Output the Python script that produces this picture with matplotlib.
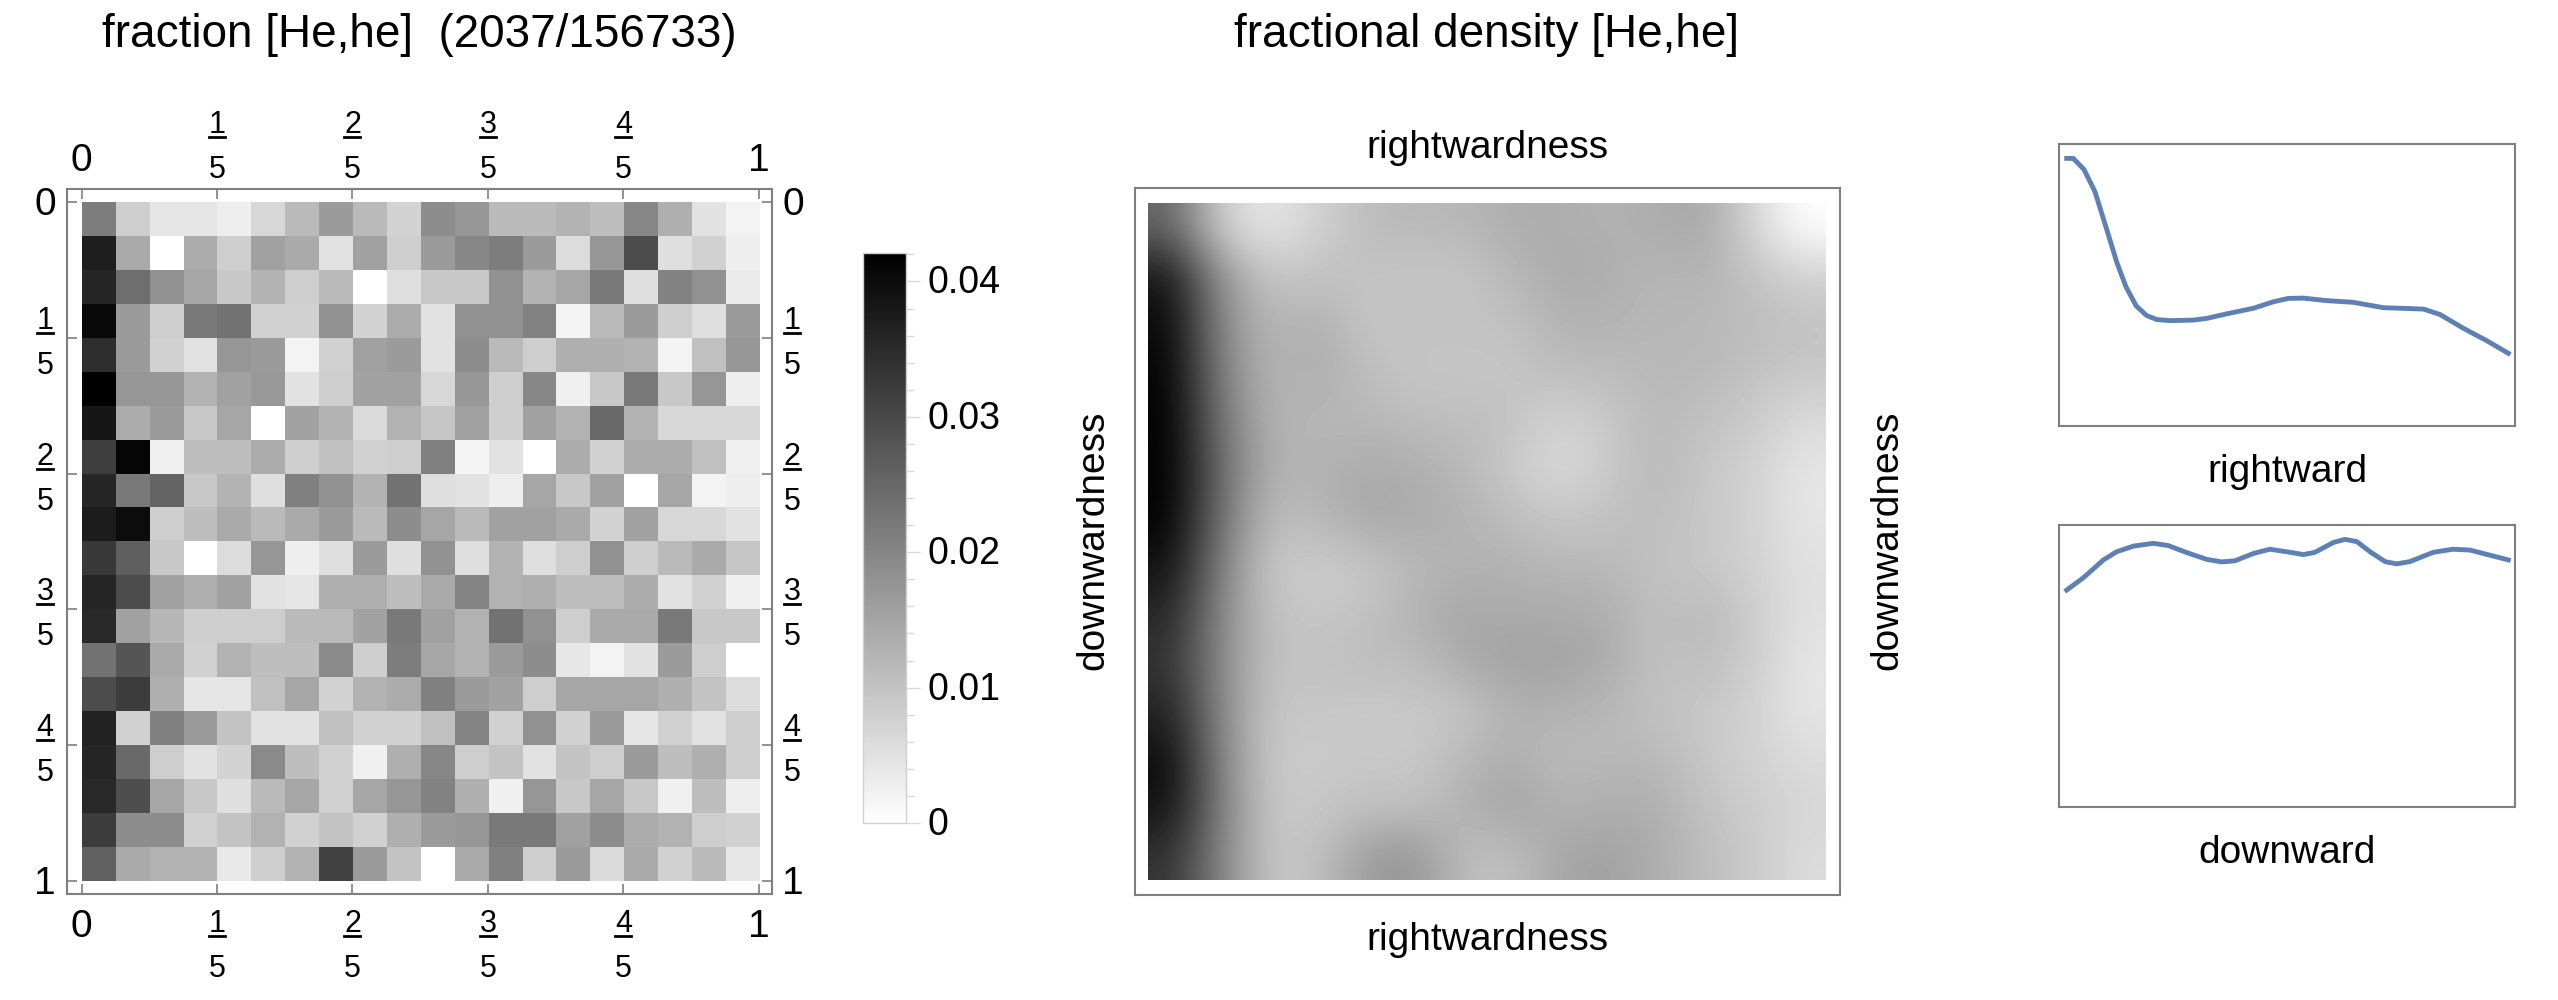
import numpy as np
import matplotlib
matplotlib.use("Agg")
import matplotlib.pyplot as plt
from matplotlib.lines import Line2D
from matplotlib.transforms import IdentityTransform, ScaledTranslation

plt.rcParams['font.family'] = ['Liberation Sans', 'DejaVu Sans']

W, H = 2558, 1000
FS = 28
TITLE_FS = 33
FRAME = '#7f7f7f'
LINE = '#5E81B5'

# fractions, in thousandths
fraction = np.array([
    [21.4, 8.2, 4.4, 4.4, 2.8, 6.6, 11.5, 16.5, 11.5, 7.4, 18.9, 17.3, 11.5, 11.5, 12.4, 10.7, 19.8, 13.2, 4.9, 2.1],
    [37.1, 14.0, 0, 13.7, 8.2, 15.6, 14.0, 4.9, 15.6, 8.2, 16.5, 19.8, 21.4, 16.5, 5.8, 17.3, 29.6, 5.4, 7.7, 2.8],
    [35.7, 23.9, 18.1, 14.8, 9.1, 12.4, 8.2, 11.5, 0, 5.4, 9.1, 9.1, 18.1, 12.4, 14.8, 21.9, 5.4, 20.6, 18.1, 3.3],
    [40.4, 16.5, 8.2, 21.9, 23.1, 7.7, 7.7, 18.1, 7.4, 13.7, 4.9, 18.1, 18.1, 20.6, 2.1, 11.5, 16.5, 8.2, 5.4, 16.5],
    [34.6, 16.5, 7.7, 4.9, 17.3, 16.5, 2.1, 7.7, 15.6, 16.5, 4.9, 18.9, 11.5, 8.2, 13.2, 13.2, 12.4, 2.1, 10.4, 17.3],
    [42.0, 17.3, 17.3, 12.4, 15.6, 17.0, 4.9, 8.2, 15.3, 15.6, 6.6, 17.3, 8.2, 19.8, 2.5, 9.1, 21.9, 9.1, 17.3, 2.8],
    [38.4, 13.7, 16.5, 9.1, 14.8, 0, 15.3, 12.4, 6.1, 12.7, 9.4, 15.6, 8.2, 15.6, 12.4, 24.7, 12.4, 6.6, 6.6, 6.6],
    [31.8, 41.2, 2.5, 10.7, 10.7, 13.7, 8.2, 10.4, 7.7, 8.2, 20.9, 2.1, 4.9, 0, 13.7, 7.7, 13.7, 13.7, 10.4, 2.5],
    [35.7, 22.2, 25.5, 9.1, 12.4, 5.4, 20.9, 18.1, 12.4, 23.1, 5.4, 4.9, 2.8, 14.8, 9.1, 15.6, 0, 14.8, 2.1, 2.8],
    [37.4, 40.0, 8.2, 10.7, 14.0, 11.5, 14.0, 16.5, 11.5, 18.9, 14.8, 11.5, 15.6, 15.6, 14.0, 7.1, 15.6, 6.6, 6.6, 4.9],
    [32.4, 26.4, 9.1, 0, 5.8, 17.3, 2.8, 5.4, 16.5, 5.4, 18.1, 5.4, 12.4, 5.4, 8.2, 18.1, 8.2, 11.5, 14.0, 9.4],
    [35.7, 29.6, 15.6, 13.2, 15.6, 4.9, 4.4, 13.2, 13.2, 10.7, 14.0, 20.3, 12.7, 13.2, 10.7, 10.7, 13.7, 4.9, 7.7, 2.5],
    [35.1, 15.6, 12.0, 8.2, 8.2, 8.2, 11.5, 11.5, 15.3, 22.2, 15.6, 12.7, 23.1, 18.1, 8.2, 14.0, 14.0, 22.2, 9.1, 9.1],
    [23.1, 28.0, 14.0, 7.7, 12.7, 10.7, 10.7, 19.3, 8.2, 21.4, 14.8, 12.7, 16.5, 18.9, 4.1, 2.1, 4.9, 16.5, 8.2, 0],
    [29.6, 32.1, 13.2, 4.4, 4.4, 10.4, 14.8, 7.1, 12.7, 13.7, 20.9, 16.5, 15.3, 8.2, 14.8, 14.8, 14.8, 13.2, 9.9, 5.8],
    [36.2, 7.7, 20.9, 16.5, 9.9, 4.9, 4.9, 10.4, 7.7, 7.7, 10.4, 20.3, 7.7, 18.1, 7.7, 16.5, 4.4, 7.7, 4.9, 8.2],
    [35.7, 24.7, 8.2, 4.9, 7.4, 19.3, 10.7, 7.7, 2.5, 13.2, 19.8, 8.2, 9.9, 4.9, 9.9, 8.2, 16.5, 10.7, 13.2, 8.2],
    [35.4, 29.2, 14.8, 9.1, 5.4, 11.5, 14.8, 7.7, 14.8, 17.3, 20.6, 13.2, 2.5, 17.3, 9.1, 14.8, 9.1, 2.5, 11.0, 2.8],
    [32.1, 18.9, 18.9, 7.7, 9.9, 12.7, 7.7, 9.9, 7.7, 13.2, 16.5, 17.3, 22.2, 22.2, 15.6, 18.9, 13.7, 12.7, 8.2, 7.7],
    [26.0, 14.0, 12.7, 12.7, 3.8, 8.2, 12.7, 31.3, 16.5, 9.9, 0, 14.0, 20.9, 8.2, 16.5, 6.1, 14.0, 7.7, 11.5, 4.1],
]) / 1000

# smooth density, relative darkness
density = np.array([
    [60, 18, 9, 18, 26, 28, 28, 32, 32, 30, 32, 35, 16, 0],
    [92, 42, 22, 24, 24, 22, 22, 28, 33, 32, 28, 30, 24, 18],
    [97, 46, 28, 32, 22, 24, 24, 24, 30, 30, 28, 28, 26, 24],
    [99, 50, 28, 33, 26, 22, 22, 22, 26, 26, 28, 28, 24, 22],
    [100, 54, 30, 28, 28, 26, 26, 24, 17, 21, 28, 24, 21, 14],
    [100, 58, 30, 30, 33, 32, 28, 21, 14, 21, 28, 22, 18, 10],
    [100, 56, 26, 28, 35, 33, 30, 26, 22, 24, 26, 22, 18, 10],
    [94, 50, 21, 20, 21, 28, 30, 30, 28, 28, 24, 22, 18, 12],
    [85, 46, 24, 22, 24, 30, 35, 33, 33, 32, 24, 28, 20, 12],
    [80, 46, 24, 24, 26, 26, 33, 37, 37, 33, 24, 26, 20, 10],
    [87, 46, 22, 22, 21, 21, 22, 30, 30, 28, 24, 22, 18, 10],
    [96, 48, 21, 21, 22, 21, 28, 32, 26, 28, 28, 22, 18, 14],
    [94, 50, 21, 22, 24, 24, 30, 37, 30, 32, 32, 24, 20, 16],
    [80, 48, 22, 24, 39, 42, 26, 24, 35, 37, 32, 26, 21, 14],
])

right_x = [0, .015, .039, .064, .091, .113, .134, .157, .181, .204, .234, .287, .317, .362,
           .423, .468, .502, .536, .589, .649, .717, .755, .808, .845, .898, .951, 1.0]
right_y = [.950, .950, .911, .832, .696, .583, .495, .427, .392, .378, .374, .376, .382, .398,
           .418, .441, .453, .454, .445, .439, .420, .418, .415, .396, .347, .303, .258]
down_x = [0, .038, .083, .113, .151, .196, .230, .272, .317, .351, .381, .423, .460, .498,
          .536, .562, .604, .630, .657, .687, .721, .747, .777, .830, .875, .913, .958, 1.0]
down_y = [.769, .813, .876, .905, .925, .935, .927, .902, .878, .869, .873, .899, .914, .905,
          .895, .903, .938, .949, .941, .905, .870, .862, .870, .903, .914, .911, .893, .876]

fracs = [(1, 5), (2, 5), (3, 5), (4, 5)]
cbar_major = [0, 0.01, 0.02, 0.03, 0.04]
cbar_labels = ['0', '0.01', '0.02', '0.03', '0.04']
cbar_minor = [0.002, 0.004, 0.006, 0.008, 0.012, 0.014, 0.016, 0.018, 0.022, 0.024,
              0.026, 0.028, 0.032, 0.034, 0.036, 0.038, 0.042]

fig = plt.figure(figsize=(W / 100, H / 100), dpi=100)


def box(x0, y0, x1, y1):
    # pixel box with y measured from the top
    return [x0 / W, 1 - y1 / H, (x1 - x0) / W, (y1 - y0) / H]


def txt(x, y, s, rot=0, size=FS):
    fig.text(x, H - y, s, transform=IdentityTransform(), ha='center', va='center',
             fontsize=size, rotation=rot, color='black')


def frac_text(x, y, num, den):
    # stacked fraction, (x, y) is the middle of the bar
    txt(x, y - 12, str(num), size=FS - 6)
    txt(x, y + 33, str(den), size=FS - 6)
    fig.add_artist(Line2D([x - 8, x + 8], [H - y, H - y], transform=IdentityTransform(),
                          color='black', lw=2))


def frame(ax):
    for s in ax.spines.values():
        s.set_color(FRAME)
        s.set_linewidth(1.5)


# left panel
ax1 = fig.add_axes(box(67, 188.5, 772, 894))
pad_x = (81.6 - 67) / (758.7 - 81.6)
pad_y = (202.3 - 188.5) / (880.7 - 202.3)
im = ax1.imshow(fraction, cmap='gray_r', vmin=0, vmax=0.0421, extent=(0, 1, 1, 0),
                interpolation='nearest', aspect='auto')
ax1.set_xlim(-pad_x, 1 + (772 - 758.7) / (758.7 - 81.6))
ax1.set_ylim(1 + (894 - 880.7) / (880.7 - 202.3), -pad_y)
tick_pos = [0, 0.2, 0.4, 0.6, 0.8, 1]
ax1.set_xticks(tick_pos)
ax1.set_yticks(tick_pos)
ax1.tick_params(direction='in', length=7, width=1.2, color=FRAME, top=True, right=True,
                labelbottom=False, labelleft=False)
frame(ax1)
fig.canvas.draw()
for t, (a, b) in zip(tick_pos[1:5], fracs):
    px = ax1.transData.transform((t, 0))[0]
    py = H - ax1.transData.transform((0, t))[1]
    frac_text(px, 137, a, b)
    frac_text(px, 936, a, b)
    frac_text(45, py - 5, a, b)
    frac_text(792, py - 5, a, b)
x_0 = ax1.transData.transform((0, 0))[0]
x_1 = ax1.transData.transform((1, 0))[0]
y_0 = H - ax1.transData.transform((0, 0))[1]
y_1 = H - ax1.transData.transform((0, 1))[1]
for y in (161, 927):
    txt(x_0, y, '0')
    txt(x_1, y, '1')
for x in (45, 793):
    txt(x, y_0 + 3, '0')
    txt(x, y_1 + 3, '1')

# colorbar
cax = fig.add_axes(box(863, 253, 906, 823))
cb = fig.colorbar(im, cax=cax)
cb.outline.set_edgecolor('#d0d0d0')
cb.outline.set_linewidth(1)
cax.set_yticks(cbar_major)
cax.set_yticklabels(cbar_labels, fontsize=FS - 1)
cax.set_yticks(cbar_minor, minor=True)
cax.tick_params(which='major', length=10, width=1, color='#d8d8d8', pad=5.5)
cax.tick_params(which='minor', length=6, width=1, color='#d8d8d8')
up = ScaledTranslation(0, 2 / 100, fig.dpi_scale_trans)
for lab in cax.get_yticklabels():
    lab.set_transform(lab.get_transform() + up)

# middle panel
ax2 = fig.add_axes(box(1134.6, 188, 1840, 894.5))
ax2.imshow(density, cmap='gray_r', vmin=0, vmax=100, extent=(0, 1, 1, 0),
           interpolation='bicubic', aspect='auto')
ax2.set_xlim(-(1148.4 - 1134.6) / 677.6, 1 + (1840 - 1826) / 677.6)
ax2.set_ylim(1 + (894.5 - 880) / 677, -(203 - 188) / 677)
ax2.set_xticks([])
ax2.set_yticks([])
frame(ax2)
txt(1487, 148, 'rightwardness')
txt(1487, 940, 'rightwardness')
txt(1093, 540, 'downwardness', rot=90)
txt(1887, 540, 'downwardness', rot=90)

# right panels
for (y0, y1, xs, ys, label, ly) in [(144.3, 426, right_x, right_y, 'rightward', 472),
                                     (525, 806.7, down_x, down_y, 'downward', 853)]:
    ax = fig.add_axes(box(2058.7, y0, 2515, y1))
    ax.plot(xs, ys, color=LINE, lw=3.5, solid_joinstyle='round')
    ax.set_xlim(-0.0181, 1.0151)
    ax.set_ylim(0, 1)
    ax.set_xticks([])
    ax.set_yticks([])
    frame(ax)
    txt(2287, ly, label)

txt(419, 35, 'fraction [He,he]  (2037/156733)', size=TITLE_FS)
txt(1487, 35, 'fractional density [He,he]', size=TITLE_FS)

fig.savefig('out.png', dpi=100, facecolor='white')
